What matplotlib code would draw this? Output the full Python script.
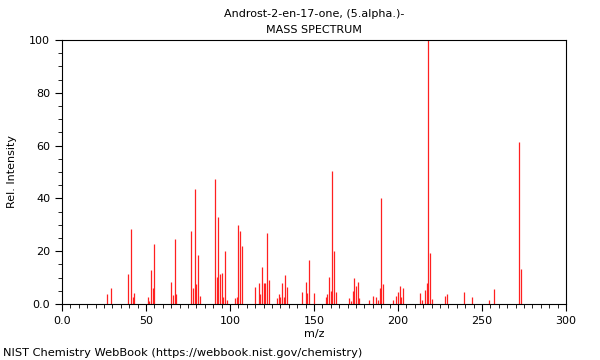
import matplotlib
matplotlib.use("Agg")
import matplotlib.pyplot as plt
from matplotlib.ticker import MultipleLocator

# peak positions (m/z) and relative intensities
mz = [27, 29, 39, 41, 42, 43, 51, 52, 53, 54, 55, 65, 66, 67, 68,
      77, 78, 79, 80, 81, 82, 91, 92, 93, 94, 95, 96, 97, 98,
      103, 104, 105, 106, 107, 115, 117, 118, 119, 120, 121, 122, 123,
      128, 129, 130, 131, 132, 133, 134, 143, 145, 146, 147, 150,
      157, 158, 159, 160, 161, 162, 163, 171, 172, 173, 174, 175, 176, 177,
      183, 185, 187, 188, 189, 190, 191, 197, 199, 200, 201, 202, 203,
      213, 214, 216, 217, 218, 219, 220, 228, 229, 239, 244, 254, 257,
      272, 273]
intensity = [3.7, 6.2, 11.3, 28.5, 2.5, 4.3, 2.5, 1.3, 12.7, 6.1, 22.8, 8.5, 3.5, 24.7, 3.6,
             27.5, 6.1, 43.6, 7.4, 18.4, 3.2, 47.4, 10.4, 32.8, 11.2, 11.7, 2.5, 19.9, 1.6,
             2.3, 2.6, 30.1, 27.8, 21.8, 6.4, 8.0, 3.9, 13.9, 8.0, 8.0, 27.0, 9.2,
             2.2, 3.6, 2.6, 8.0, 2.8, 11.0, 6.6, 4.4, 8.4, 4.0, 16.5, 4.2,
             2.8, 3.6, 10.4, 4.9, 50.2, 20.1, 4.4, 2.2, 1.3, 4.9, 9.9, 6.9, 8.5, 2.2,
             1.6, 3.2, 2.8, 1.6, 6.0, 40.2, 7.4, 1.5, 3.0, 4.5, 6.7, 2.5, 6.1,
             4.3, 1.5, 5.2, 7.8, 100.0, 19.2, 1.8, 2.9, 3.9, 4.6, 2.8, 1.4, 5.5,
             61.2, 13.1]

x_ticks = [0, 50, 100, 150, 200, 250, 300]
x_labels = ["0.0", "50", "100", "150", "200", "250", "300"]
y_ticks = [0, 20, 40, 60, 80, 100]
y_labels = ["0.0", "20", "40", "60", "80", "100"]

fig = plt.figure(figsize=(6, 3.6), dpi=100)
ax = fig.add_axes([62 / 600, 1 - 304 / 360, 504 / 600, 264 / 360])

ax.vlines(mz, 0, intensity, colors="#ff2020", linewidth=0.9)

ax.set_xlim(0, 300)
ax.set_ylim(0, 100)
ax.set_xticks(x_ticks)
ax.set_xticklabels(x_labels)
ax.set_yticks(y_ticks)
ax.set_yticklabels(y_labels)
ax.xaxis.set_minor_locator(MultipleLocator(5))
ax.yaxis.set_minor_locator(MultipleLocator(5))
ax.tick_params(which="major", length=5, width=0.8, labelsize=8)
ax.tick_params(which="minor", length=3, width=0.6)
for s in ax.spines.values():
    s.set_linewidth(0.8)

ax.set_xlabel("m/z", fontsize=8, labelpad=2)
ax.set_ylabel("Rel. Intensity", fontsize=8)
ax.yaxis.set_label_coords(-45 / 504, 0.5)

fig.text(314 / 600, 1 - 14 / 360, "Androst-2-en-17-one, (5.alpha.)-", ha="center", va="center", fontsize=8)
fig.text(314 / 600, 1 - 30 / 360, "MASS SPECTRUM", ha="center", va="center", fontsize=8)
fig.text(3 / 600, 1 - 353 / 360, "NIST Chemistry WebBook (https://webbook.nist.gov/chemistry)",
         ha="left", va="center", fontsize=8.2)

fig.savefig("out.png", dpi=100)
